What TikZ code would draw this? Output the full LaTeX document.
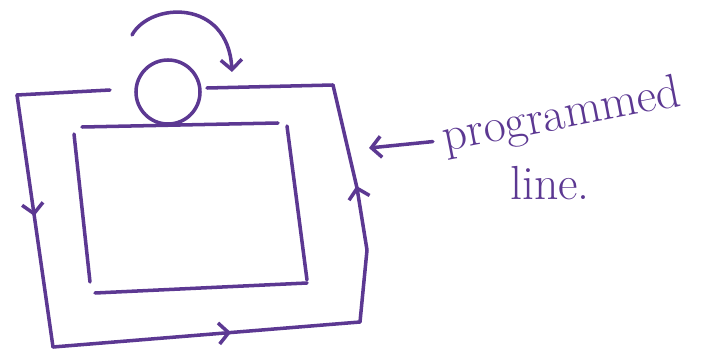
\documentclass[tikz,border=0pt]{standalone}
\usepackage{tikz}
\usetikzlibrary{arrows.meta,decorations.markings,positioning}
\definecolor{InkPurple}{RGB}{92,56,146}

\begin{document}
\begin{tikzpicture}[x=0.025cm, y=-0.025cm,
		ink/.style={InkPurple, line width=2.5pt, line cap=round, line join=round},
		barb/.style={-{Straight Barb[length=7pt, width=15pt]}},
		midbarb/.style={postaction={decorate}, decoration={markings,
			mark=at position #1 with {\arrow{Straight Barb[length=7pt, width=15pt, line width=2.5pt]}}}}]
		\useasboundingbox (0,0) rectangle (712,361);
		% corners of the outer loop
		\coordinate (gapL) at (110,90);
		\coordinate (otl) at (17,95);
		\coordinate (obl) at (53,347);
		\coordinate (obr) at (360,322);
		\coordinate (omr) at (367,250);
		\coordinate (ormid) at (357,188);
		\coordinate (otr) at (333,85);
		\coordinate (gapR) at (207,88);
		% inner box ends
		\coordinate (itl) at (82,127);
		\coordinate (itr) at (278,123);
		\coordinate (irt) at (287,126);
		\coordinate (irb) at (307,280);
		\coordinate (ilt) at (74,134);
		\coordinate (ilb) at (90,282);
		\coordinate (ibl) at (95,293);
		\coordinate (ibr) at (307,283);
		\coordinate (tip) at (369,148);
		
		\node[circle, draw, ink, minimum size=1.6cm] (pump) at (168,92) {};
		
		% outer programmed line
		\draw[ink] (gapL) -- (otl);
		\draw[ink, midbarb=0.48] (otl) -- (obl);
		\draw[ink, midbarb=0.58] (obl) -- (obr);
		\draw[ink] (obr) -- (omr) -- (ormid);
		\draw[ink, midbarb=0.02] (ormid) -- (otr);
		\draw[ink] (otr) -- (gapR);
		% inner box
		\draw[ink] (itl) -- (itr);
		\draw[ink] (irt) -- (irb);
		\draw[ink] (ilt) -- (ilb);
		\draw[ink] (ibl) -- (ibr);
		% rotation arrow over the circle
		\draw[ink, barb] (132,35) .. controls (150,2) and (228,-2) .. (232,72);
		
		\node[text=InkPurple, font=\fontsize{34}{38}\selectfont, rotate=11] (prog) at (562,117) {programmed};
		\node[text=InkPurple, font=\fontsize{34}{38}\selectfont] (lbl) at (550,183) {line.};
		\draw[ink, barb, shorten <=4pt] (prog.west) -- (tip);
	\end{tikzpicture}
\end{document}
